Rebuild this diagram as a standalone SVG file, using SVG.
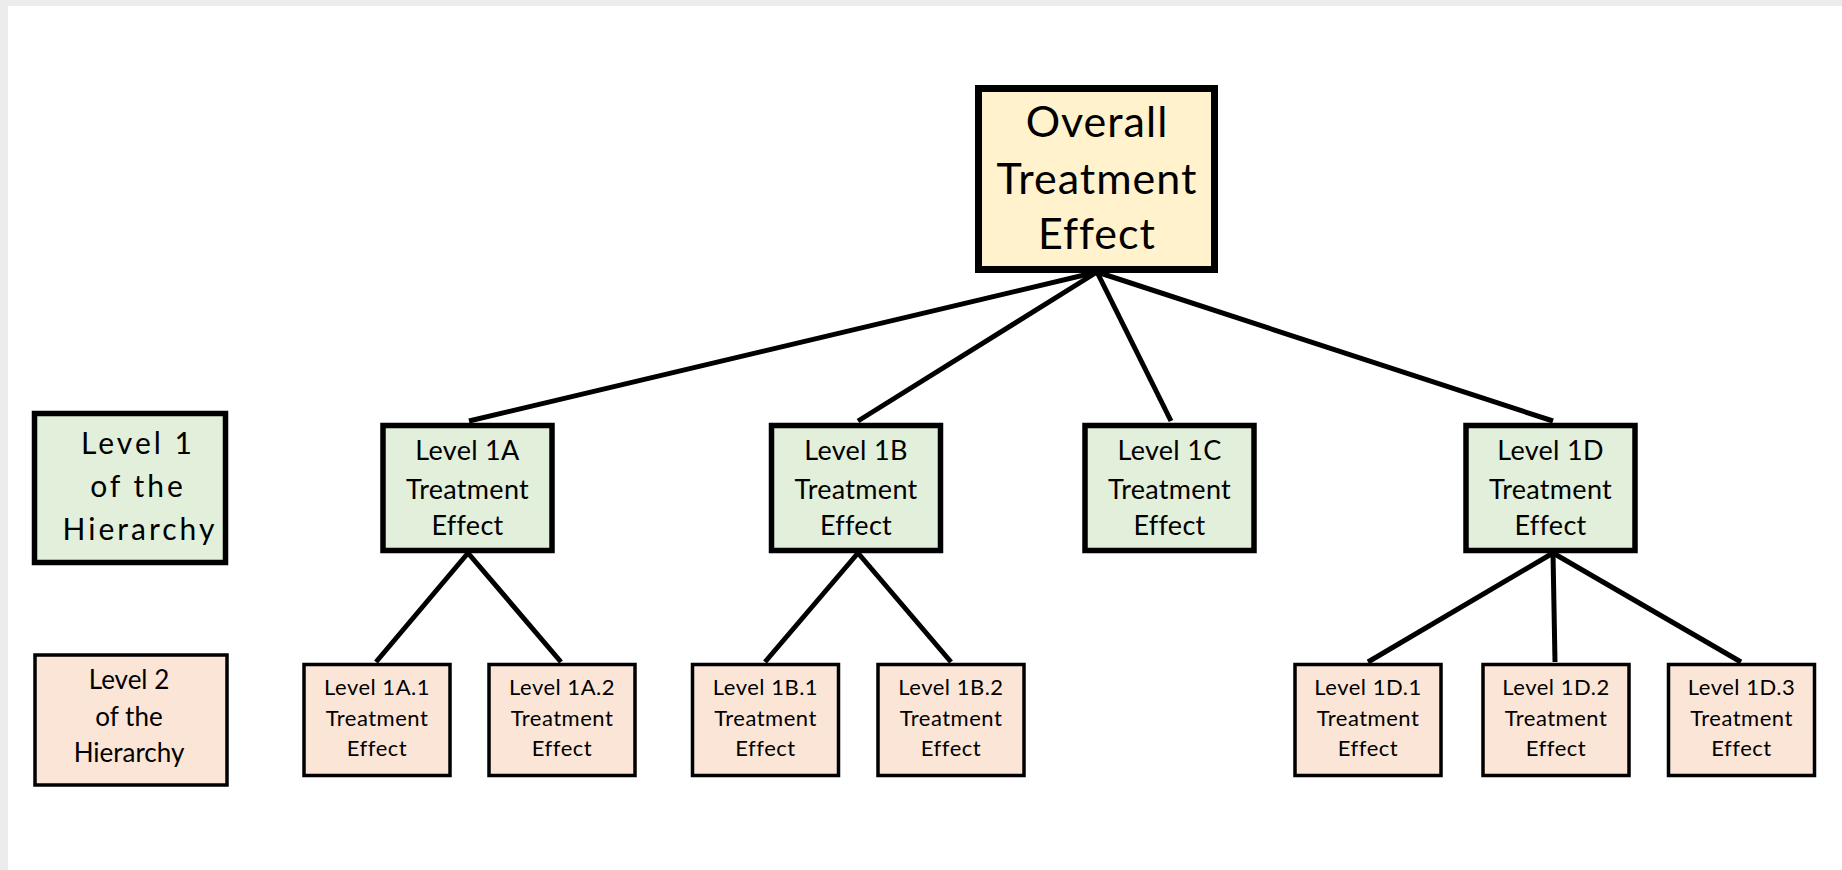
<svg xmlns="http://www.w3.org/2000/svg" width="1842" height="870" viewBox="0 0 1842 870">
  <style>
    .box1 { fill: #E2EFDA; stroke: #000; stroke-width: 5.5; }
    .box2 { fill: #FBE5D6; stroke: #000; stroke-width: 3.5; }
    .top { fill: #FFF2CC; stroke: #000; stroke-width: 7; }
    .edge { stroke: #000; stroke-width: 5; fill: none; stroke-linecap: butt; }
    text { font-family: Lato, "Open Sans", "Liberation Sans", sans-serif; fill: #000; text-anchor: middle; }
    .t0 { font-size: 43px; letter-spacing: 1px; }
    .t1 { font-size: 27px; letter-spacing: 0.3px; }
    .t2 { font-size: 22px; letter-spacing: 0.5px; }
    .lg1 { font-size: 30px; letter-spacing: 3px; }
    .lg2 { font-size: 26px; }
  </style>

  <!-- page frame -->
  <rect x="0" y="0" width="1842" height="870" fill="#ececec"/>
  <rect x="8" y="6" width="1834" height="864" fill="#ffffff"/>

  <!-- connectors -->
  <g id="connectors">
    <line class="edge" x1="1097" y1="272" x2="469" y2="421"/>
    <line class="edge" x1="1097" y1="272" x2="858" y2="421"/>
    <line class="edge" x1="1097" y1="272" x2="1171" y2="421"/>
    <line class="edge" x1="1097" y1="272" x2="1553" y2="421"/>
    <line class="edge" x1="468" y1="553" x2="376" y2="662"/>
    <line class="edge" x1="468" y1="553" x2="561" y2="662"/>
    <line class="edge" x1="858" y1="553" x2="765" y2="662"/>
    <line class="edge" x1="858" y1="553" x2="951" y2="662"/>
    <line class="edge" x1="1553" y1="553" x2="1368" y2="662"/>
    <line class="edge" x1="1553" y1="553" x2="1555" y2="662"/>
    <line class="edge" x1="1553" y1="553" x2="1741" y2="662"/>
  </g>

  <!-- root -->
  <g id="overall">
    <rect class="top" x="978.5" y="88.5" width="236" height="181"/>
    <text class="t0" x="1097" y="137">Overall</text>
    <text class="t0" x="1097" y="194">Treatment</text>
    <text class="t0" x="1097" y="249">Effect</text>
  </g>

  <!-- legend -->
  <g id="legend-level1">
    <rect class="box1" x="34.5" y="413.5" width="191" height="149"/>
    <text class="lg1" x="138" y="454">Level 1</text>
    <text class="lg1" x="138" y="497">of the</text>
    <text class="lg1" x="140" y="540">Hierarchy</text>
  </g>
  <g id="legend-level2">
    <rect class="box2" x="35" y="655" width="192" height="130"/>
    <text class="lg2" x="129" y="689">Level 2</text>
    <text class="lg2" x="129" y="726">of the</text>
    <text class="lg2" x="129" y="762">Hierarchy</text>
  </g>

  <!-- level 1 -->
  <g id="level-1a">
    <rect class="box1" x="383" y="425.5" width="169" height="125"/>
    <text class="t1" x="467.5" y="460">Level 1A</text>
    <text class="t1" x="467.5" y="499">Treatment</text>
    <text class="t1" x="467.5" y="535">Effect</text>
  </g>
  <g id="level-1b">
    <rect class="box1" x="771.5" y="425.5" width="169" height="125"/>
    <text class="t1" x="856" y="460">Level 1B</text>
    <text class="t1" x="856" y="499">Treatment</text>
    <text class="t1" x="856" y="535">Effect</text>
  </g>
  <g id="level-1c">
    <rect class="box1" x="1085" y="425.5" width="169" height="125"/>
    <text class="t1" x="1169.5" y="460">Level 1C</text>
    <text class="t1" x="1169.5" y="499">Treatment</text>
    <text class="t1" x="1169.5" y="535">Effect</text>
  </g>
  <g id="level-1d">
    <rect class="box1" x="1466" y="425.5" width="169" height="125"/>
    <text class="t1" x="1550.5" y="460">Level 1D</text>
    <text class="t1" x="1550.5" y="499">Treatment</text>
    <text class="t1" x="1550.5" y="535">Effect</text>
  </g>

  <!-- level 2 -->
  <g id="level-1a-1">
    <rect class="box2" x="304" y="664.5" width="146" height="111"/>
    <text class="t2" x="377" y="695">Level 1A.1</text>
    <text class="t2" x="377" y="726">Treatment</text>
    <text class="t2" x="377" y="756">Effect</text>
  </g>
  <g id="level-1a-2">
    <rect class="box2" x="489" y="664.5" width="146" height="111"/>
    <text class="t2" x="562" y="695">Level 1A.2</text>
    <text class="t2" x="562" y="726">Treatment</text>
    <text class="t2" x="562" y="756">Effect</text>
  </g>
  <g id="level-1b-1">
    <rect class="box2" x="692.5" y="664.5" width="146" height="111"/>
    <text class="t2" x="765.5" y="695">Level 1B.1</text>
    <text class="t2" x="765.5" y="726">Treatment</text>
    <text class="t2" x="765.5" y="756">Effect</text>
  </g>
  <g id="level-1b-2">
    <rect class="box2" x="878" y="664.5" width="146" height="111"/>
    <text class="t2" x="951" y="695">Level 1B.2</text>
    <text class="t2" x="951" y="726">Treatment</text>
    <text class="t2" x="951" y="756">Effect</text>
  </g>
  <g id="level-1d-1">
    <rect class="box2" x="1295" y="664.5" width="146" height="111"/>
    <text class="t2" x="1368" y="695">Level 1D.1</text>
    <text class="t2" x="1368" y="726">Treatment</text>
    <text class="t2" x="1368" y="756">Effect</text>
  </g>
  <g id="level-1d-2">
    <rect class="box2" x="1483" y="664.5" width="146" height="111"/>
    <text class="t2" x="1556" y="695">Level 1D.2</text>
    <text class="t2" x="1556" y="726">Treatment</text>
    <text class="t2" x="1556" y="756">Effect</text>
  </g>
  <g id="level-1d-3">
    <rect class="box2" x="1668.5" y="664.5" width="146" height="111"/>
    <text class="t2" x="1741.5" y="695">Level 1D.3</text>
    <text class="t2" x="1741.5" y="726">Treatment</text>
    <text class="t2" x="1741.5" y="756">Effect</text>
  </g>
</svg>
